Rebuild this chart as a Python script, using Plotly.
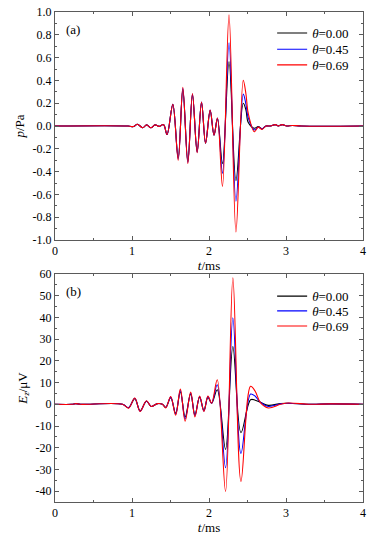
import plotly.graph_objects as go

# ---------------- data ----------------
series_names = ["<i>θ</i>=0.00", "<i>θ</i>=0.45", "<i>θ</i>=0.69"]
series_colors = ["#000000", "#0000ff", "#ff0000"]

# panel (a): pressure p (Pa) vs time t (ms)
t_p = [0.0, 0.95, 1.02, 1.07, 1.14, 1.19, 1.245, 1.30, 1.35, 1.41, 1.455, 1.53,
       1.60, 1.66, 1.725, 1.785, 1.846, 1.903, 1.955, 2.015, 2.065, 2.11,
       2.175, 2.26, 2.35, 2.445, 2.48, 2.51, 2.59, 2.64, 2.69, 2.74, 2.80,
       2.86, 2.90, 2.95, 3.01, 3.08, 3.2, 4.0]
p_000 = [0, 0, -0.005, 0.015, -0.015, 0.01, -0.015, 0.01, -0.003, 0.012, -0.075, 0.19,
         -0.28, 0.32, -0.31, 0.275, -0.225, 0.205, -0.15, 0.135, -0.08, 0.065,
         -0.33, 0.565, -0.48, 0.20, 0.14, 0.03, -0.02, -0.005, -0.025, 0.0, 0.0,
         0.012, 0.0, 0.012, 0.0, 0.005, 0, 0]
p_045 = [0, 0, -0.005, 0.015, -0.015, 0.01, -0.015, 0.01, -0.003, 0.012, -0.075, 0.19,
         -0.29, 0.33, -0.32, 0.28, -0.23, 0.21, -0.15, 0.14, -0.08, 0.07,
         -0.415, 0.73, -0.66, 0.28, 0.19, 0.07, -0.035, -0.01, -0.025, 0.0, 0.0,
         0.012, 0.0, 0.012, 0.0, 0.005, 0, 0]
p_069 = [0, 0, -0.005, 0.015, -0.015, 0.01, -0.015, 0.01, -0.003, 0.012, -0.075, 0.19,
         -0.30, 0.34, -0.33, 0.285, -0.235, 0.21, -0.15, 0.14, -0.08, 0.07,
         -0.53, 0.975, -0.93, 0.40, 0.28, 0.11, -0.05, -0.01, -0.03, 0.0, 0.0,
         0.012, 0.0, 0.012, 0.0, 0.005, 0, 0]

# panel (b): electric field Ez (uV) vs time t (ms)
t_e = [0.0, 0.22, 0.27, 0.33, 0.877, 0.955, 1.036, 1.105, 1.188, 1.25, 1.33, 1.395,
       1.438, 1.503, 1.567, 1.628, 1.69, 1.762, 1.817, 1.878, 1.934, 1.986, 2.034,
       2.107, 2.215, 2.31, 2.415, 2.54, 2.60, 2.67, 2.77, 2.93, 3.03, 3.32, 3.58, 4.0]
e_000 = [0, 0, 0.3, 0, 0, -1.6, 2.6, -3.0, 1.4, -1.0, 0.3, 0,
         -1.4, 3.0, -4.2, 5.8, -5.8, 4.8, -4.8, 3.3, -2.8, 3.2, 0.5,
         6.7, -20.8, 26.6, -13.1, 2.1, 1.9, 0.9, -0.5, 0.4, 0.5, 0, 0.2, 0]
e_045 = [0, 0, 0.3, 0, 0, -1.6, 2.8, -3.2, 1.5, -1.0, 0.3, 0,
         -1.5, 3.3, -4.6, 6.4, -6.8, 5.2, -5.3, 3.6, -3.1, 3.6, 0.5,
         9.0, -29.2, 39.8, -22.6, 4.7, 3.7, 0.8, -1.0, 0.2, 0.5, 0, 0.2, 0]
e_069 = [0, 0, 0.3, 0, 0, -1.8, 2.9, -3.3, 1.6, -1.0, 0.3, 0,
         -1.7, 3.6, -5.0, 7.0, -7.8, 5.6, -5.8, 3.8, -3.3, 3.8, 0.5,
         11.3, -40.2, 58.3, -35.5, 8.3, 6.0, 0.6, -1.7, 0.0, 0.6, 0, 0.2, 0]

x_tickvals = [0, 1, 2, 3, 4]
x_ticktext = ["0", "1", "2", "3", "4"]
p_tickvals = [1.0, 0.8, 0.6, 0.4, 0.2, 0.0, -0.2, -0.4, -0.6, -0.8, -1.0]
p_ticktext = ["1.0", "0.8", "0.6", "0.4", "0.2", "0.0", "-0.2", "-0.4", "-0.6", "-0.8", "-1.0"]
e_tickvals = [60, 50, 40, 30, 20, 10, 0, -10, -20, -30, -40]
e_ticktext = ["60", "50", "40", "30", "20", "10", "0", "-10", "-20", "-30", "-40"]

# ---------------- figure ----------------
FONT = "Liberation Serif, Times New Roman, Times, serif"
fig = go.Figure()

p_series = [p_000, p_045, p_069]
e_series = [e_000, e_045, e_069]
for i in range(3):
    fig.add_trace(go.Scatter(x=t_p, y=p_series[i], mode="lines", name=series_names[i],
                             line=dict(color=series_colors[i], width=1.1, shape="spline", smoothing=1.0),
                             xaxis="x", yaxis="y", showlegend=True,
                             legend="legend" if i == 0 else f"legend{i + 1}"))
for i in range(3):
    fig.add_trace(go.Scatter(x=t_e, y=e_series[i], mode="lines", name=series_names[i],
                             line=dict(color=series_colors[i], width=1.1, shape="spline", smoothing=1.0),
                             xaxis="x2", yaxis="y2", showlegend=True, legend=f"legend{i + 4}"))

axis_common = dict(showline=True, linecolor="#5a5a5a", linewidth=1, mirror="allticks",
                   ticks="inside", ticklen=4, tickcolor="#5a5a5a", tickwidth=1,
                   showgrid=False, zeroline=False, automargin=False,
                   ticklabeloverflow="allow",
                   tickfont=dict(family=FONT, size=12, color="black"))
title_font = dict(family=FONT, size=13, color="black")

fig.update_layout(
    width=385, height=538,
    showlegend=True,
    font=dict(family=FONT, size=12, color="black"),
    margin=dict(l=55, r=22, t=12, b=36),
    paper_bgcolor="white", plot_bgcolor="white",
    xaxis=dict(range=[0, 4], domain=[0, 1], anchor="y", tickmode="array",
               tickvals=x_tickvals, ticktext=x_ticktext,
               minor=dict(ticks="inside", ticklen=2, dtick=0.5, tick0=0, tickcolor="#5a5a5a"),
               title=dict(text="<i>t</i>/ms", standoff=1, font=title_font), **axis_common),
    yaxis=dict(range=[-1, 1], domain=[0.5347, 1], anchor="x", tickmode="array",
               tickvals=p_tickvals, ticktext=p_ticktext,
               minor=dict(ticks="inside", ticklen=2, dtick=0.1, tick0=0, tickcolor="#5a5a5a"),
               title=dict(text="<i>p</i>/Pa", standoff=5, font=title_font), **axis_common),
    xaxis2=dict(range=[0, 4], domain=[0, 1], anchor="y2", tickmode="array",
                tickvals=x_tickvals, ticktext=x_ticktext,
                minor=dict(ticks="inside", ticklen=2, dtick=0.5, tick0=0, tickcolor="#5a5a5a"),
                title=dict(text="<i>t</i>/ms", standoff=1, font=title_font), **axis_common),
    yaxis2=dict(range=[-45, 60], domain=[0, 0.4653], anchor="x2", tickmode="array",
                tickvals=e_tickvals, ticktext=e_ticktext,
                minor=dict(ticks="inside", ticklen=2, dtick=5, tick0=0, tickcolor="#5a5a5a"),
                title=dict(text="<i>E</i><sub><i>z</i></sub>/μV", standoff=5, font=title_font),
                **axis_common),
    annotations=[
        dict(text="(a)", xref="x domain", yref="y domain", x=0.03, y=0.925,
             xanchor="left", yanchor="middle", showarrow=False,
             font=dict(family=FONT, size=13, color="black")),
        dict(text="(b)", xref="x2 domain", yref="y2 domain", x=0.03, y=0.925,
             xanchor="left", yanchor="middle", showarrow=False,
             font=dict(family=FONT, size=13, color="black")),
    ],
)

legend_y = [0.957, 0.924, 0.892, 0.420, 0.390, 0.359]
for k in range(6):
    key = "legend" if k == 0 else f"legend{k + 1}"
    fig.update_layout({key: dict(x=0.705, y=legend_y[k], xanchor="left", yanchor="middle",
                                 bgcolor="rgba(0,0,0,0)", borderwidth=0, visible=True,
                                 font=dict(family=FONT, size=13, color="black"))})

# remove the browser's default 8px body margin so the figure fills the window exactly
fig.write_html("out.html", config={"displayModeBar": False, "staticPlot": True},
               post_script="document.body.style.margin='0px';")
